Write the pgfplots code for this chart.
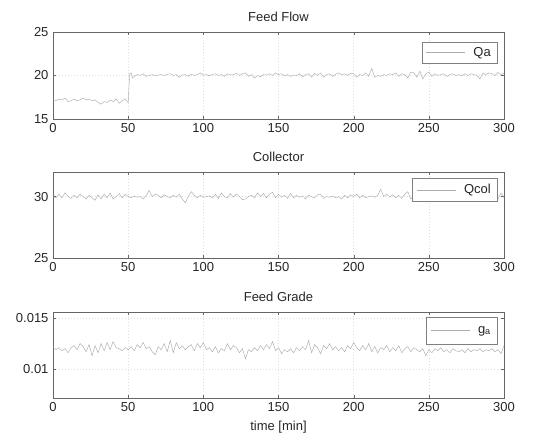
\documentclass[border=0pt]{standalone}
\usepackage{pgfplots}
\pgfplotsset{compat=1.18}
\usepackage{fontspec}
\setmainfont{Liberation Sans}
\pgfplotstableread{
x y
0 17.2
2 17.1
4 17.3
6 17.2
8 17.4
10 17.0
12 17.1
14 17.3
16 17.1
18 17.2
20 17.4
22 17.2
24 17.3
26 17.1
28 17.2
30 16.9
32 16.7
34 17.0
36 16.9
38 17.2
40 17.0
42 17.3
44 16.8
46 17.1
48 17.3
50 16.9
51 20.2
52 20.3
53 19.7
54 19.9
56 20.1
58 20.0
60 20.2
62 19.9
64 20.0
66 20.1
68 19.95
70 20.05
72 20.1
74 20.0
76 20.15
78 20.2
80 20.0
82 20.1
84 19.8
86 20.05
88 20.1
90 19.9
92 20.15
94 20.0
96 20.1
98 20.3
100 20.05
102 20.1
104 19.95
106 20.1
108 20.2
110 20.0
112 20.1
114 19.9
116 20.2
118 20.05
120 20.1
122 20.25
124 20.0
126 20.2
128 20.3
130 19.9
132 20.1
134 19.7
136 20.0
138 19.85
140 20.1
142 20.05
144 20.2
146 20.0
148 20.3
150 20.1
152 20.2
154 19.95
156 20.1
158 19.9
160 20.05
162 20.0
164 20.2
166 19.85
168 20.1
170 20.2
172 19.8
174 20.25
176 20.0
178 20.3
180 19.8
182 20.1
184 20.2
186 19.9
188 20.15
190 20.3
192 20.1
194 20.2
196 20.0
198 20.25
200 20.2
202 19.8
204 20.1
206 20.0
208 20.3
210 19.9
212 20.8
214 19.8
216 20.0
218 19.9
220 20.1
222 20.0
224 20.2
226 20.1
228 20.3
230 19.9
232 20.2
234 20.1
236 19.7
238 20.4
240 20.3
242 19.8
244 20.5
246 19.6
248 20.2
250 20.4
252 19.9
254 20.2
256 20.0
258 20.1
260 20.2
262 19.9
264 20.1
266 20.2
268 20.0
270 20.1
272 19.95
274 20.2
276 20.0
278 20.2
280 20.1
282 20.0
284 19.6
286 20.3
288 20.1
290 20.3
292 20.2
294 20.0
296 20.35
298 20.1
300 20.3
}\feedflow
\pgfplotstableread{
x y
0 30.0
2 29.9
4 30.2
6 29.9
8 30.3
10 30.0
12 29.85
14 30.1
16 29.9
18 30.2
20 30.0
22 29.8
24 30.1
26 29.9
28 29.7
30 30.15
32 29.8
34 30.2
36 29.9
38 30.3
40 29.8
42 30.0
44 30.25
46 29.9
48 30.2
50 30.0
52 29.9
54 30.05
56 29.95
58 30.0
60 29.8
62 30.1
64 30.5
66 30.0
68 30.2
70 30.1
72 29.9
74 30.15
76 30.0
78 29.9
80 30.1
82 29.95
84 30.2
86 29.8
88 29.5
90 30.0
92 30.4
94 30.1
96 29.9
98 30.1
100 29.95
102 30.0
104 30.05
106 29.9
108 30.2
110 29.85
112 30.3
114 30.0
116 29.9
118 30.25
120 29.95
122 30.2
124 30.0
126 29.75
128 29.8
130 30.0
132 30.1
134 29.9
136 30.3
138 30.0
140 30.25
142 29.9
144 30.2
146 30.35
148 29.9
150 30.2
152 29.95
154 30.1
156 29.85
158 30.25
160 29.9
162 30.1
164 29.95
166 30.05
168 29.8
170 30.1
172 30.0
174 29.9
176 30.15
178 30.2
180 29.85
182 30.0
184 29.95
186 30.05
188 29.9
190 30.0
192 29.8
194 30.1
196 29.9
198 30.15
200 30.0
202 30.2
204 29.9
206 30.1
208 29.9
210 30.0
212 30.05
214 29.95
216 30.1
218 30.6
220 30.0
222 30.2
224 29.95
226 30.15
228 29.9
230 30.1
232 29.85
234 30.2
236 30.4
238 29.8
240 30.1
242 29.9
244 30.2
246 30.0
248 30.1
250 29.9
252 30.2
254 29.9
256 30.1
258 30.0
260 30.15
262 29.9
264 30.1
266 30.0
268 29.85
270 30.2
272 29.95
274 30.1
276 29.9
278 30.2
280 30.0
282 29.9
284 30.1
286 30.0
288 30.2
290 29.9
292 30.1
294 30.0
296 29.8
298 30.3
300 29.9
}\collector
\pgfplotstableread{
x y
0 0.0122
2 0.0119
4 0.0121
6 0.0118
8 0.0120
10 0.0116
12 0.0121
14 0.0123
16 0.0119
18 0.0125
20 0.0122
22 0.0117
24 0.0124
26 0.0113
28 0.0123
30 0.0116
32 0.0125
34 0.0118
36 0.0126
38 0.0119
40 0.0127
42 0.0121
44 0.0120
46 0.0118
48 0.0121
50 0.0119
52 0.0122
54 0.0118
56 0.0124
58 0.0121
60 0.0126
62 0.0120
64 0.0122
66 0.0117
68 0.0114
70 0.0122
72 0.0119
74 0.0125
76 0.0117
78 0.0128
80 0.0116
82 0.0126
84 0.0120
86 0.0123
88 0.0119
90 0.0122
92 0.0124
94 0.0118
96 0.0125
98 0.0121
100 0.0126
102 0.0119
104 0.0121
106 0.0117
108 0.0122
110 0.0116
112 0.0120
114 0.0118
116 0.0125
118 0.0119
120 0.0123
122 0.0121
124 0.0116
126 0.0120
128 0.0110
130 0.0119
132 0.0117
134 0.0121
136 0.0118
138 0.0123
140 0.0119
142 0.0124
144 0.0120
146 0.0127
148 0.0118
150 0.0121
152 0.0115
154 0.0119
156 0.0117
158 0.0120
160 0.0116
162 0.0121
164 0.0118
166 0.0122
168 0.0119
170 0.0128
172 0.0116
174 0.0124
176 0.0121
178 0.0115
180 0.0123
182 0.0120
184 0.0125
186 0.0119
188 0.0122
190 0.0118
192 0.0121
194 0.0117
196 0.0123
198 0.0120
200 0.0126
202 0.0121
204 0.0118
206 0.0123
208 0.0119
210 0.0125
212 0.0117
214 0.0122
216 0.0116
218 0.0121
220 0.0119
222 0.0123
224 0.0117
226 0.0121
228 0.0118
230 0.0123
232 0.0116
234 0.0120
236 0.0122
238 0.0117
240 0.0121
242 0.0119
244 0.0117
246 0.0120
248 0.0113
250 0.0119
252 0.0116
254 0.0120
256 0.0118
258 0.0121
260 0.0117
262 0.0119
264 0.0116
266 0.0120
268 0.0118
270 0.0117
272 0.0119
274 0.0116
276 0.0120
278 0.0117
280 0.0119
282 0.0118
284 0.0120
286 0.0117
288 0.0119
290 0.0118
292 0.0120
294 0.0117
296 0.0119
298 0.0115
300 0.0123
}\feedgrade
\begin{document}
\fontsize{13}{15}\selectfont
\begin{tikzpicture}
\path[use as bounding box] (0,0) rectangle (554pt,443pt);
\pgfplotsset{
 every axis/.append style={
  scale only axis, width=451pt, anchor=south west,
  xmin=0, xmax=300, xtick={0,50,...,300},
  grid=major,
  major grid style={gray!25, dash pattern=on 1.2pt off 1.8pt},
  axis line style={gray!80!black},
  tick style={gray!80!black}, tick align=inside, major tick length=3pt,
  /pgf/number format/assume math mode=true,
  ticklabel style={font=\fontsize{13}{15}\selectfont, text=black!85},
  title style={font=\fontsize{13}{15}\selectfont, text=black!85},
  label style={font=\fontsize{13}{15}\selectfont, text=black!85},
  legend cell align=right,
  legend style={draw=gray, fill=white, font=\fontsize{13}{15}\selectfont,
    at={(1,1)}, anchor=north east, text=black!85,
    inner xsep=4pt, inner ysep=3pt},
  legend image code/.code={\draw[#1] (0pt,0pt) -- (39pt,0pt);},
 },
}
\begin{axis}[at={(53pt,324pt)}, height=87pt,
  ymin=15, ymax=25, ytick={15,20,25}, title={Feed Flow},
  legend style={xshift=-7pt, yshift=-10pt}]
\addplot[gray!65, line width=0.45pt, mark=none] table[x=x,y=y]{\feedflow};
\addlegendentry{\hspace{6pt}Qa}
\end{axis}
\begin{axis}[at={(53pt,185pt)}, height=86pt,
  ymin=25, ymax=32, ytick={25,30}, title={Collector},
  legend style={xshift=-7pt, yshift=-6pt, inner ysep=4pt}]
\addplot[gray!65, line width=0.45pt, mark=none] table[x=x,y=y]{\collector};
\addlegendentry{\hspace{6pt}Qcol}
\end{axis}
\begin{axis}[at={(53pt,45pt)}, height=86pt,
  ymin=0.00716, ymax=0.0156, ytick={0.01,0.015}, yticklabels={0.01,0.015},
  scaled y ticks=false, title={Feed Grade}, xlabel={time [min]},
  legend style={xshift=-7pt, yshift=-5pt, inner ysep=7pt}]
\addplot[gray!65, line width=0.45pt, mark=none] table[x=x,y=y]{\feedgrade};
\addlegendentry{\hspace{6pt}g\textsubscript{a}}
\end{axis}
\end{tikzpicture}
\end{document}
